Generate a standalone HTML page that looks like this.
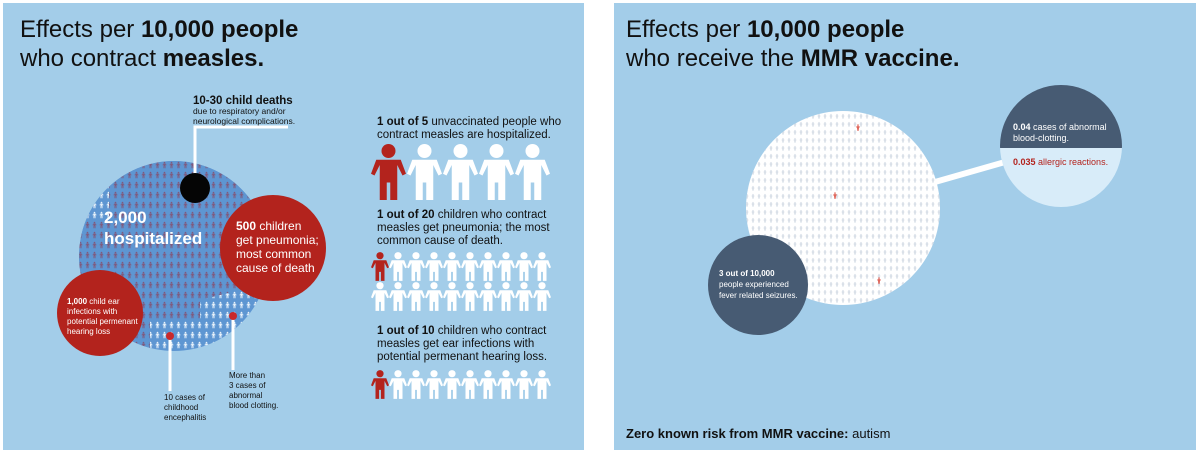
<!DOCTYPE html>
<html><head><meta charset="utf-8">
<style>
body{margin:0;width:1199px;height:453px;background:#fff;overflow:hidden;font-family:"Liberation Sans",sans-serif}
svg{display:block}
text{font-family:"Liberation Sans",sans-serif}
</style></head>
<body>
<svg id="svg" width="1199" height="453" viewBox="0 0 1199 453">
<defs>
  <symbol id="fig" viewBox="0 0 20 32">
    <circle cx="10" cy="4" r="4"/>
    <path d="M3 9 H17 L20 17 L18 18 L15 12 V32 H11 V22 H9 V32 H5 V12 L2 18 L0 17 Z"/>
  </symbol>
  <pattern id="pm" width="7" height="10" patternUnits="userSpaceOnUse"><use href="#fig" x="1.5" y="1" width="4" height="8" fill="#7f5a7e"/></pattern>
  <pattern id="pw" width="7" height="10" patternUnits="userSpaceOnUse"><use href="#fig" x="1.5" y="1" width="4" height="8" fill="#e9f2fa"/></pattern>
  <pattern id="pg" width="6" height="8" patternUnits="userSpaceOnUse"><use href="#fig" x="1.5" y="1" width="3" height="6.5" fill="#cdd6e1"/></pattern>
  <clipPath id="cbig"><circle cx="174" cy="256" r="95"/></clipPath>
</defs>

<!-- Left panel -->
<g>
<rect x="3" y="3" width="581" height="447" fill="#a3cde9"/>
<text x="20" y="37" font-size="24" fill="#111">Effects per <tspan font-weight="bold">10,000 people</tspan></text>
<text x="20" y="66" font-size="24" fill="#111">who contract <tspan font-weight="bold">measles.</tspan></text>

<g>
<circle cx="174" cy="256" r="95" fill="#5e96d2"/>
<g clip-path="url(#cbig)">
  <rect x="79" y="161" width="190" height="190" fill="url(#pw)"/>
  <path d="M79 161 H269 V260 L240 260 L240 290 L200 300 L200 320 L150 320 L150 351 L79 351 Z" fill="#5e96d2"/>
  <path d="M79 161 H269 V260 L240 260 L240 290 L200 300 L200 320 L150 320 L150 351 L79 351 Z" fill="url(#pm)"/>
  <rect x="79" y="161" width="30" height="60" fill="#5e96d2"/>
  <rect x="79" y="161" width="30" height="60" fill="url(#pw)"/>
</g>
</g>
<polyline points="195,188 195,127 288,127" fill="none" stroke="#fff" stroke-width="3"/>
<circle cx="195" cy="188" r="15" fill="#050505"/>
<text x="193" y="104" font-size="11.5" font-weight="bold" fill="#111">10-30 child deaths</text>
<text x="193" y="114" font-size="8.5" fill="#111">due to respiratory and/or</text>
<text x="193" y="124" font-size="8.5" fill="#111">neurological complications.</text>
<text x="104" y="223" font-size="17" font-weight="bold" fill="#fff">2,000</text>
<text x="104" y="244" font-size="17" font-weight="bold" fill="#fff">hospitalized</text>

<g>
<circle cx="273" cy="248" r="53" fill="#b3231d"/>
<text x="236" y="230" font-size="12" fill="#fff"><tspan font-weight="bold">500</tspan> children</text>
<text x="236" y="244" font-size="12" fill="#fff">get pneumonia;</text>
<text x="236" y="258" font-size="12" fill="#fff">most common</text>
<text x="236" y="272" font-size="12" fill="#fff">cause of death</text>
</g>
<g>
<circle cx="100" cy="313" r="43" fill="#b3231d"/>
<text x="67" y="304" font-size="8" fill="#fff"><tspan font-weight="bold">1,000</tspan> child ear</text>
<text x="67" y="314" font-size="8" fill="#fff">infections with</text>
<text x="67" y="324" font-size="8" fill="#fff">potential permenant</text>
<text x="67" y="334" font-size="8" fill="#fff">hearing loss</text>
</g>
<line x1="170" y1="336" x2="170" y2="391" stroke="#fff" stroke-width="3"/>
<circle cx="170" cy="336" r="4" fill="#c8282b"/>
<line x1="233" y1="316" x2="233" y2="370" stroke="#fff" stroke-width="3"/>
<circle cx="233" cy="316" r="4" fill="#c8282b"/>
<g font-size="8" fill="#111">
<text x="164" y="400">10 cases of</text><text x="164" y="410">childhood</text><text x="164" y="420">encephalitis</text></g>
<g font-size="8" fill="#111">
<text x="229" y="378">More than</text><text x="229" y="388">3 cases of</text><text x="229" y="398">abnormal</text><text x="229" y="408">blood clotting.</text></g>

<g font-size="11.5" fill="#111">
<text x="377" y="125"><tspan font-weight="bold">1 out of 5</tspan> unvaccinated people who</text>
<text x="377" y="138">contract measles are hospitalized.</text></g>
<g font-size="11.5" fill="#111">
<text x="377" y="218"><tspan font-weight="bold">1 out of 20</tspan> children who contract</text>
<text x="377" y="231">measles get pneumonia; the most</text>
<text x="377" y="244">common cause of death.</text></g>
<g font-size="11.5" fill="#111">
<text x="377" y="334"><tspan font-weight="bold">1 out of 10</tspan> children who contract</text>
<text x="377" y="347">measles get ear infections with</text>
<text x="377" y="360">potential permenant hearing loss.</text></g>
<g id="icons"></g>
</g>

<!-- Right panel -->
<g>
<rect x="614" y="3" width="582" height="447" fill="#a3cde9"/>
<text x="626" y="37" font-size="24" fill="#111">Effects per <tspan font-weight="bold">10,000 people</tspan></text>
<text x="626" y="66" font-size="24" fill="#111">who receive the <tspan font-weight="bold">MMR vaccine.</tspan></text>
<line x1="935" y1="182" x2="1005" y2="162" stroke="#fff" stroke-width="6"/>
<g>
<circle cx="843" cy="208" r="97" fill="#fff"/>
<circle cx="843" cy="208" r="97" fill="url(#pg)"/>
<use href="#fig" x="856" y="124" width="4" height="7" fill="#e0665a"/>
<use href="#fig" x="833" y="192" width="4" height="7" fill="#e0665a"/>
<use href="#fig" x="877" y="277" width="4" height="7" fill="#e0665a"/>
</g>
<g>
<circle cx="758" cy="285" r="50" fill="#475b73"/>
<text x="719" y="276" font-size="8" font-weight="bold" fill="#fff">3 out of 10,000</text>
<text x="719" y="287" font-size="8" fill="#fff">people experienced</text>
<text x="719" y="298" font-size="8" fill="#fff">fever related seizures.</text>
</g>
<g>
<clipPath id="cr"><circle cx="1061" cy="146" r="61"/></clipPath>
<g clip-path="url(#cr)">
<rect x="1000" y="85" width="122" height="63" fill="#475b73"/>
<rect x="1000" y="148" width="122" height="60" fill="#d8ecf9"/>
</g>
<text x="1013" y="130" font-size="9" fill="#fff"><tspan font-weight="bold">0.04</tspan> cases of abnormal</text>
<text x="1013" y="141" font-size="9" fill="#fff">blood-clotting.</text>
<text x="1013" y="165" font-size="9" fill="#b3231d"><tspan font-weight="bold">0.035</tspan> allergic reactions.</text>
</g>
<text x="626" y="438" font-size="13" fill="#111"><tspan font-weight="bold">Zero known risk from MMR vaccine:</tspan> autism</text>
</g>
</svg>
<script>
const rowNames=['hospital-row','pneumonia-row-1','pneumonia-row-2','ear-row'];
const rowCounts=[5,10,10,10];
const rowHighlighted=[1,1,0,1];
const rowY=[143,252,282,370];
const rowSize=[[35,58],[18,29],[18,29],[18,29]];
const rowStep=[36,18,18,18];
const g=document.getElementById('icons');
const NS='http://www.w3.org/2000/svg';
rowNames.forEach((n,r)=>{
  for(let i=0;i<rowCounts[r];i++){
    const u=document.createElementNS(NS,'use');
    u.setAttribute('href','#fig');
    u.setAttribute('x',371+i*rowStep[r]);
    u.setAttribute('y',rowY[r]);
    u.setAttribute('width',rowSize[r][0]);
    u.setAttribute('height',rowSize[r][1]);
    u.setAttribute('fill',i<rowHighlighted[r]?'#b3231d':'#fff');
    
    
    g.appendChild(u);
  }
});
</script>
</body></html>
